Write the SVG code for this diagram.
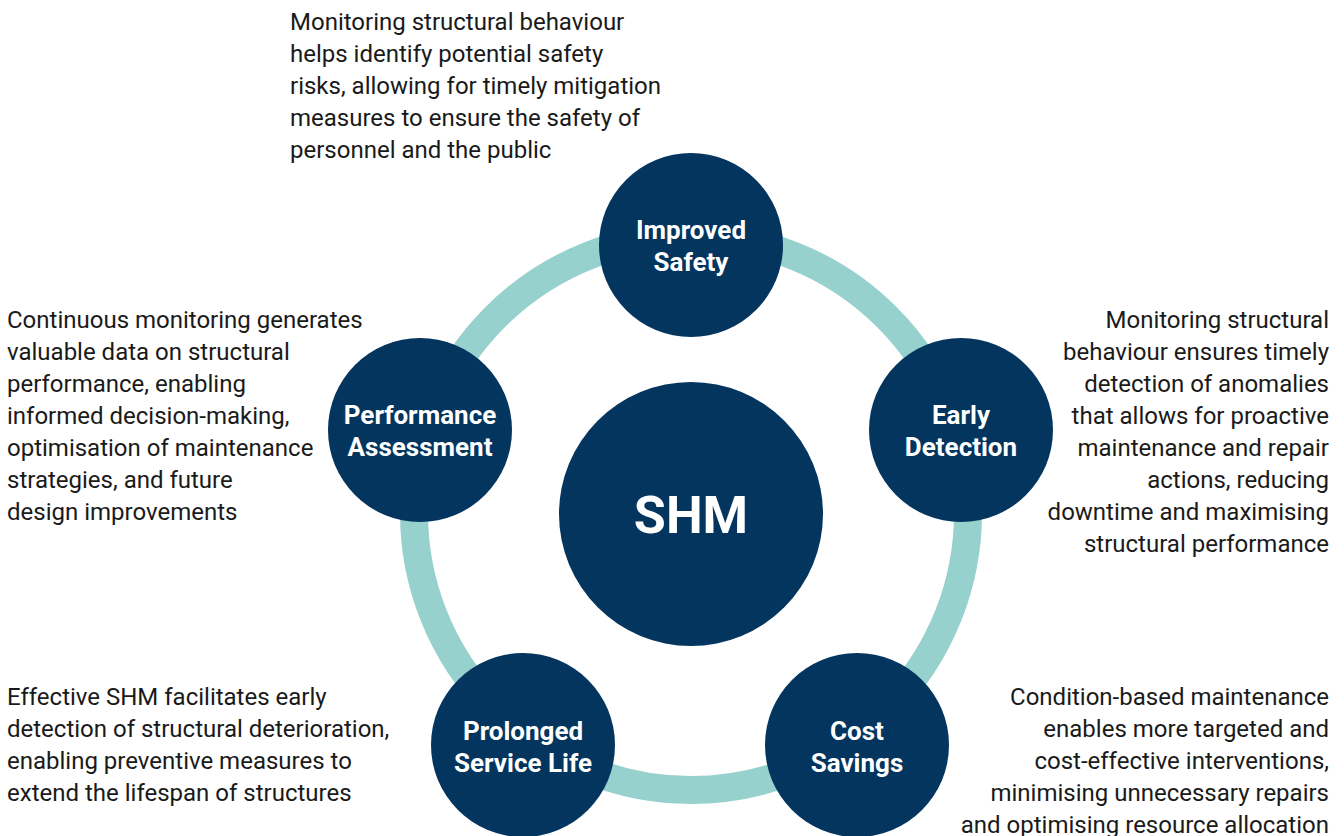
<svg xmlns="http://www.w3.org/2000/svg" width="1344" height="836" viewBox="0 0 1344 836">
<style>
.node{fill:#03355F}
.lbl{font-family:Roboto,"Liberation Sans",sans-serif;font-weight:bold;font-size:26px;fill:#ffffff;text-anchor:middle}
.desc{font-family:Roboto,"Liberation Sans",sans-serif;font-size:24px;fill:#1a1a1a}
.r{text-anchor:end}
</style>
<rect width="1344" height="836" fill="#ffffff"/>
<g id="connectors">
<circle cx="691" cy="513" r="277" fill="none" stroke="#97D1CE" stroke-width="28"/>
</g>
<g id="shm">
<circle class="node" cx="691" cy="514" r="132"/>
<text x="691" y="533" style="font-family:Roboto,'Liberation Sans',sans-serif;font-weight:bold;font-size:52px;fill:#fff;text-anchor:middle">SHM</text>
</g>
<g id="improved-safety">
<circle class="node" cx="691" cy="245" r="92"/>
<text class="lbl" x="691" y="239">Improved</text>
<text class="lbl" x="691" y="271">Safety</text>
</g>
<g id="early-detection">
<circle class="node" cx="961" cy="430" r="92"/>
<text class="lbl" x="961" y="424">Early</text>
<text class="lbl" x="961" y="456">Detection</text>
</g>
<g id="performance-assessment">
<circle class="node" cx="420" cy="430" r="92"/>
<text class="lbl" x="420" y="424">Performance</text>
<text class="lbl" x="420" y="456">Assessment</text>
</g>
<g id="prolonged-service-life">
<circle class="node" cx="523" cy="745" r="92"/>
<text class="lbl" x="523" y="740">Prolonged</text>
<text class="lbl" x="523" y="772">Service Life</text>
</g>
<g id="cost-savings">
<circle class="node" cx="857" cy="745" r="92"/>
<text class="lbl" x="857" y="740">Cost</text>
<text class="lbl" x="857" y="772">Savings</text>
</g>
<g id="desc-safety">
<text class="desc" x="290" y="30">Monitoring structural behaviour</text>
<text class="desc" x="290" y="62">helps identify potential safety</text>
<text class="desc" x="290" y="94">risks, allowing for timely mitigation</text>
<text class="desc" x="290" y="126">measures to ensure the safety of</text>
<text class="desc" x="290" y="158">personnel and the public</text>
</g>
<g id="desc-performance">
<text class="desc" x="7" y="328">Continuous monitoring generates</text>
<text class="desc" x="7" y="360">valuable data on structural</text>
<text class="desc" x="7" y="392">performance, enabling</text>
<text class="desc" x="7" y="424">informed decision-making,</text>
<text class="desc" x="7" y="456">optimisation of maintenance</text>
<text class="desc" x="7" y="488">strategies, and future</text>
<text class="desc" x="7" y="520">design improvements</text>
</g>
<g id="desc-early">
<text class="desc r" x="1329" y="328">Monitoring structural</text>
<text class="desc r" x="1329" y="360">behaviour ensures timely</text>
<text class="desc r" x="1329" y="392">detection of anomalies</text>
<text class="desc r" x="1329" y="424">that allows for proactive</text>
<text class="desc r" x="1329" y="456">maintenance and repair</text>
<text class="desc r" x="1329" y="488">actions, reducing</text>
<text class="desc r" x="1329" y="520">downtime and maximising</text>
<text class="desc r" x="1329" y="552">structural performance</text>
</g>
<g id="desc-prolonged">
<text class="desc" x="7" y="705">Effective SHM facilitates early</text>
<text class="desc" x="7" y="737">detection of structural deterioration,</text>
<text class="desc" x="7" y="769">enabling preventive measures to</text>
<text class="desc" x="7" y="801">extend the lifespan of structures</text>
</g>
<g id="desc-cost">
<text class="desc r" x="1329" y="705">Condition-based maintenance</text>
<text class="desc r" x="1329" y="737">enables more targeted and</text>
<text class="desc r" x="1329" y="769">cost-effective interventions,</text>
<text class="desc r" x="1329" y="801">minimising unnecessary repairs</text>
<text class="desc r" x="1329" y="833">and optimising resource allocation</text>
</g>
</svg>
